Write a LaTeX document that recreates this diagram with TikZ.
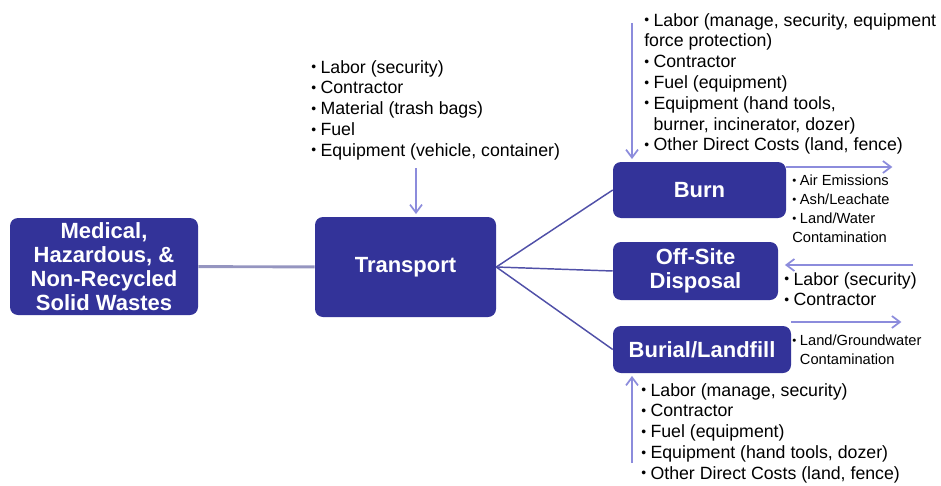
\documentclass[tikz,border=0pt]{standalone}
\usepackage{fontspec}
\setmainfont{Liberation Sans}
\usetikzlibrary{arrows.meta}
\definecolor{boxblue}{HTML}{333399}
\definecolor{linkgray}{HTML}{9595C0}
\definecolor{branchblue}{HTML}{5050A8}
\definecolor{arrowlilac}{HTML}{8C8CDC}
\newcommand{\bul}{\raisebox{0.08em}{\scalebox{0.78}{\textbullet}}\hspace{0.25em}}
\newcommand{\wastebox}[6]{\node[wastebox, minimum width=#4*0.75pt, minimum height=#5*0.75pt] (#1) at ( #2 , #3 ) {#6};}
\tikzset{
  wastebox/.style={draw=none, fill=boxblue, rounded corners=6pt, text=white, inner sep=0pt,
    align=center, font=\bfseries\fontsize{16.5}{18}\selectfont},
  costlist/.style={anchor=north west, inner sep=0pt, align=left, font=\fontsize{13.3}{15.6}\selectfont},
  effectlist/.style={anchor=north west, inner sep=0pt, align=left, font=\fontsize{11}{14.2}\selectfont},
  srclink/.style={draw=linkgray, line width=2.2pt},
  branchlink/.style={draw=branchblue, line width=1.1pt},
  costarrow/.style={draw=arrowlilac, line width=1.3pt, -{Straight Barb[length=6pt,width=9pt]}, shorten >=2pt}
}
\begin{document}
\begin{tikzpicture}[x=0.75pt, y=-0.75pt]
    \useasboundingbox (0,0) rectangle (941,485);
    % boxes
    \wastebox{src}{104}{266.5}{188}{97}{Medical,\\Hazardous, \&\\Non-Recycled\\Solid Wastes}
    \wastebox{transport}{405.5}{267}{181}{100}{Transport}
    \wastebox{burn}{699.5}{190}{173}{56}{Burn}
    \wastebox{offsite}{695.5}{271}{165}{58}{Off-Site\\Disposal}
    \wastebox{burial}{702}{349.5}{178}{47}{Burial/Landfill}

    % links
    \draw[srclink] (src) -- (transport);
    \draw[branchlink] (transport.east) -- (burn.west);
    \draw[branchlink] (transport.east) -- (offsite.west);
    \draw[branchlink] (transport.east) -- (burial.west);

    % costs
    \node[costlist] (trcost) at (311,60) {\bul Labor (security)\\\bul Contractor\\\bul Material (trash bags)\\\bul Fuel\\\bul Equipment (vehicle, container)};
    \node[costlist] (burncost) at (644,13) {\bul Labor (manage, security, equipment\\force protection)\\\bul Contractor\\\bul Fuel (equipment)\\\bul Equipment (hand tools,\\\hphantom{\bul}burner, incinerator, dozer)\\\bul Other Direct Costs (land, fence)};
    \node[costlist] (offcost) at (784,272) {\bul Labor (security)\\\bul Contractor};
    \node[costlist] (burialcost) at (641,383) {\bul Labor (manage, security)\\\bul Contractor\\\bul Fuel (equipment)\\\bul Equipment (hand tools, dozer)\\\bul Other Direct Costs (land, fence)};

    % effects
    \node[effectlist] (burneff) at (792,175) {\bul Air Emissions\\\bul Ash/Leachate\\\bul Land/Water\\Contamination};
    \node[effectlist] (burialeff) at (792,335) {\bul Land/Groundwater\\\hphantom{\bul}Contamination};

    % arrows
    \coordinate (trin) at (416,168);
    \coordinate (burnin) at (632,23);
    \coordinate (burnout) at (895,167);
    \coordinate (offin) at (913,265);
    \coordinate (burialout) at (904,322);
    \coordinate (burialin) at (632,463);
    \draw[costarrow] (trin) -- (trin |- transport.north);
    \draw[costarrow] (burnin) -- (burnin |- burn.north);
    \draw[costarrow] (burnout -| burn.east) -- (burnout);
    \draw[costarrow, shorten >=5pt] (offin) -- (offin -| offsite.east);
    \draw[costarrow] (burialout -| burial.east) -- (burialout);
    \draw[costarrow] (burialin) -- (burialin |- burial.south);
\end{tikzpicture}
\end{document}
